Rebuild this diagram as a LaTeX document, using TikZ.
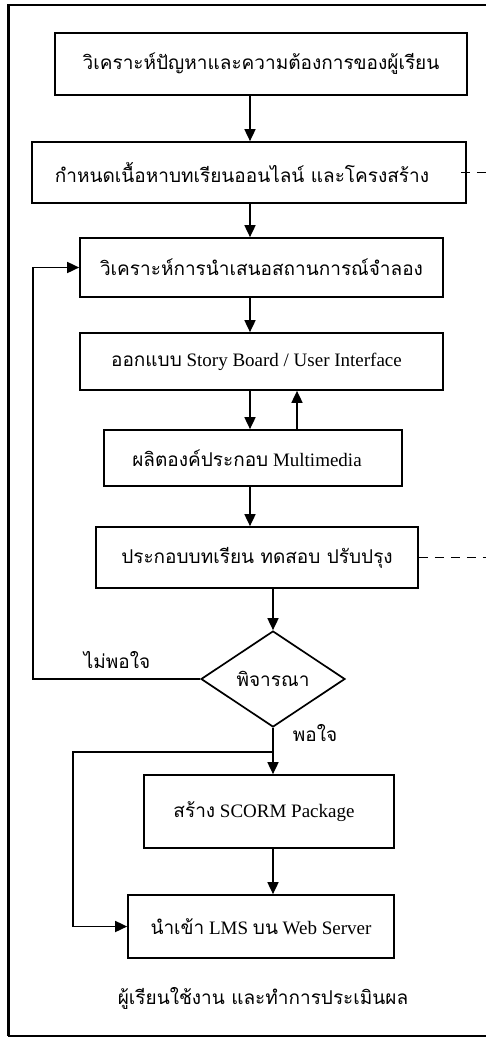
\documentclass[tikz,border=0pt]{standalone}
\usepackage{fontspec}
\setmainfont{Liberation Serif}
\newfontfamily\thaifont[Script=Thai]{Loma}
\newcommand{\thai}[1]{{\thaifont #1}}
\usetikzlibrary{arrows.meta,shapes.geometric}
\begin{document}
\begin{tikzpicture}[x=1pt,y=-1pt,
  box/.style={draw, line width=1.7pt, rectangle, inner sep=0pt, font=\fontsize{19}{22}\selectfont},
  arr/.style={line width=1.7pt, -{Triangle[width=11pt,length=12pt]}},
  dsh/.style={line width=1.7pt, dash pattern=on 9pt off 7pt},
  lbl/.style={inner sep=0pt, font=\fontsize{19}{22}\selectfont}]
\useasboundingbox (0,0) rectangle (486,1039);
\fill[white] (0,0) rectangle (486,1039);
\draw[line width=2pt] (486,5) -- (8,5);
\draw[line width=3pt] (8,4) -- (8,1036);
\draw[line width=2pt] (8,1036) -- (486,1036);

\node[box, minimum width=412pt, minimum height=62pt] (b1) at (261,64) {\thai{วิเคราะห์ปัญหาและความต้องการของผู้เรียน}};
\node[box, minimum width=434pt, minimum height=61pt] (b2) at (249,172.5) {\thai{กำหนดเนื้อหาบทเรียนออนไลน์ และโครงสร้าง}\hspace*{14pt}};
\node[box, minimum width=363pt, minimum height=59pt] (b3) at (261.5,267.5) {\thai{วิเคราะห์การนำเสนอสถานการณ์จำลอง}};
\node[box, minimum width=363pt, minimum height=57pt] (b4) at (261.5,361.5) {\thai{ออกแบบ} Story Board / User Interface\hspace*{10pt}};
\node[box, minimum width=298pt, minimum height=56pt] (b5) at (253,458) {\thai{ผลิตองค์ประกอบ} Multimedia\hspace*{12pt}};
\node[box, minimum width=322pt, minimum height=61pt] (b6) at (257,557.5) {\thai{ประกอบบทเรียน ทดสอบ ปรับปรุง}};
\node[draw, line width=1.7pt, diamond, aspect=1.5, inner sep=0pt, minimum width=144pt, minimum height=96pt, font=\fontsize{19}{22}\selectfont] (d) at (273,679) {\thai{พิจารณา}};
\node[box, minimum width=250pt, minimum height=73pt] (b7) at (269,811.5) {\thai{สร้าง} SCORM Package\hspace*{10pt}};
\node[box, minimum width=266pt, minimum height=63pt] (b8) at (261,926.5) {\thai{นำเข้า} LMS \thai{บน} Web Server};

\node[lbl] (no) at (117,660) {\thai{ไม่พอใจ}};
\node[lbl] (yes) at (315,733) {\thai{พอใจ}};
\node[lbl] (end) at (263,998) {\thai{ผู้เรียนใช้งาน และทำการประเมินผล}};

\coordinate (c1) at (250,0);
\coordinate (c2) at (297,0);
\coordinate (c3) at (273,0);
\coordinate (l1) at (33,0);
\coordinate (l2) at (73,0);
\coordinate (br) at (273,752);
\coordinate (o1) at (486,172.5);
\coordinate (o2) at (486,557.5);

\draw[arr] (b1.south -| c1) -- (b2.north -| c1);
\draw[arr] (b2.south -| c1) -- (b3.north -| c1);
\draw[arr] (b3.south -| c1) -- (b4.north -| c1);
\draw[arr] (b4.south -| c1) -- (b5.north -| c1);
\draw[arr] (b5.north -| c2) -- (b4.south -| c2);
\draw[arr] (b5.south -| c1) -- (b6.north -| c1);
\draw[arr] (b6.south -| c3) -- (d.north);
\draw[arr] (d.south) -- (b7.north -| d.south);
\draw[arr] (b7.south -| c3) -- (b8.north -| c3);
\draw[arr] (d.west) -- (d.west -| l1) -- (b3.west -| l1) -- (b3.west);
\draw[arr] (br) -- (br -| l2) -- (b8.west -| l2) -- (b8.west);
\draw[dsh] ([xshift=-6pt]b2.east) -- (o1);
\draw[dsh] (b6.east) -- (o2);
\end{tikzpicture}
\end{document}
